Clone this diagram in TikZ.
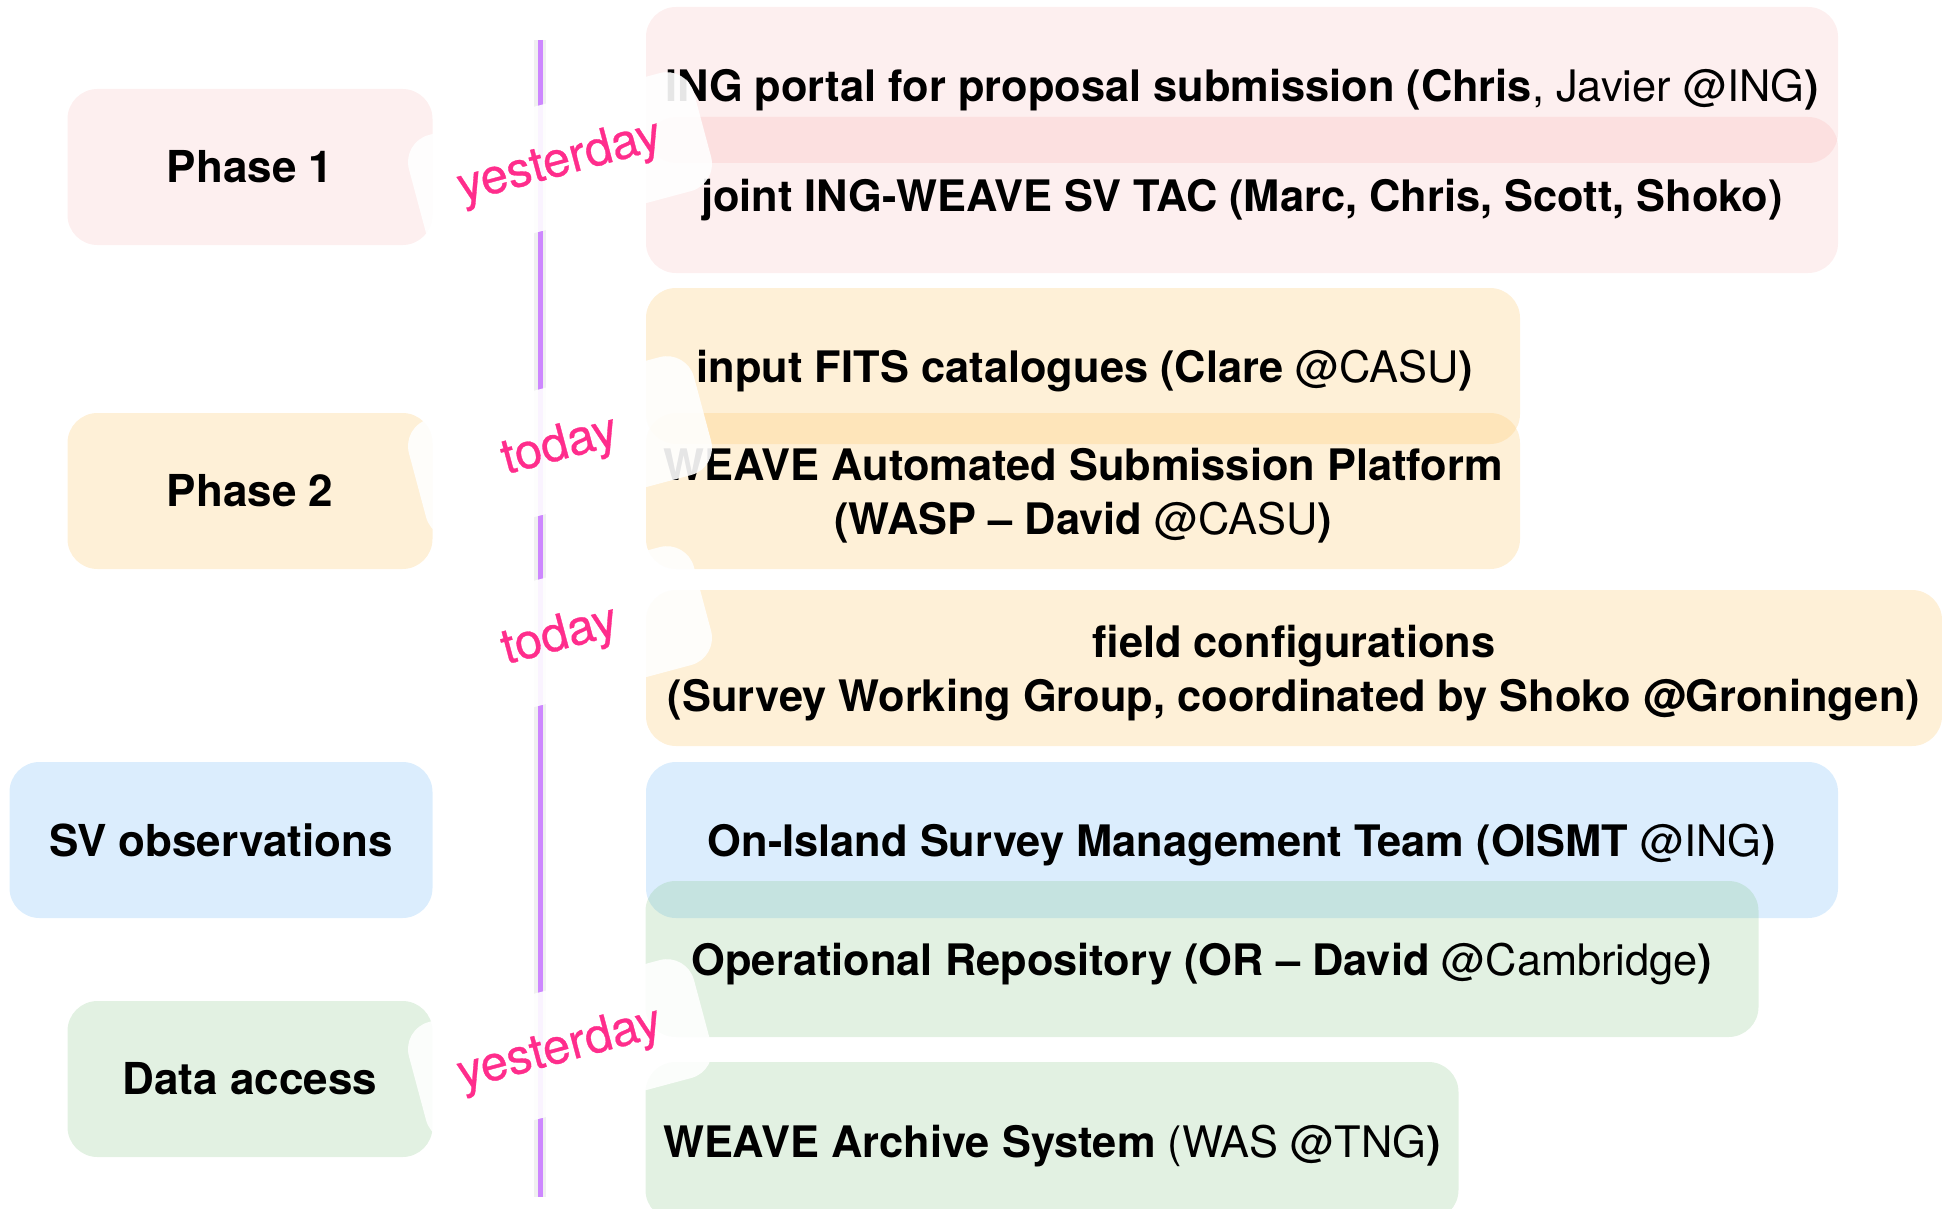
\documentclass[tikz,border=0pt]{standalone}
\usepackage{fontspec}
\setmainfont{TeX Gyre Heros}
\newfontfamily\tagfont{TeX Gyre Heros}[FakeBold=0.6]
\definecolor{pinkbase}{RGB}{240,120,120}
\definecolor{orangebase}{RGB}{252,200,110}
\definecolor{bluebase}{RGB}{90,175,245}
\definecolor{greenbase}{RGB}{110,185,110}
\definecolor{labelpink}{RGB}{255,45,140}
\definecolor{timeline}{RGB}{205,135,255}
\begin{document}
\begin{tikzpicture}[x=1pt,y=-1pt,
  every node/.style={inner sep=0pt,outer sep=0pt},
  box/.style={rounded corners=30pt,minimum height=156pt,text=black,text opacity=1,
    font=\fontsize{44}{54}\selectfont\bfseries,align=center},
  rtext/.style={text=black,font=\fontsize{43.4}{54}\selectfont\bfseries,align=center},
  pinkbox/.style={box,fill=pinkbase,fill opacity=0.12},
  orangebox/.style={box,fill=orangebase,fill opacity=0.28},
  bluebox/.style={box,fill=bluebase,fill opacity=0.22},
  greenbox/.style={box,fill=greenbase,fill opacity=0.2},
  tag/.style={rotate=15,minimum width=295pt,minimum height=122pt,rounded corners=28pt,
    fill=white,fill opacity=0.9,text opacity=1,text=labelpink,
    font=\fontsize{49}{52}\tagfont}]
\useasboundingbox (0,0) rectangle (1942,1209);
% left phase boxes
\node[pinkbox,minimum width=365pt] (p1) at (250,167) {Phase 1};
\node[orangebox,minimum width=365pt] (p2) at (250,491) {Phase 2};
\node[bluebox,minimum width=423pt] (sv) at (221,840) {SV observations};
\node[greenbox,minimum width=365pt] (da) at (250,1079) {Data access};
% right boxes
\node[pinkbox,minimum width=1192pt] (a1) at (1242,85) {};
\node[pinkbox,minimum width=1192pt] (a2) at (1242,195) {};
\node[orangebox,minimum width=874pt] (b1) at (1083,366) {};
\node[orangebox,minimum width=874pt] (b2) at (1083,491) {};
\node[orangebox,minimum width=1296pt] (b3) at (1294,668) {};
\node[bluebox,minimum width=1192pt] (c1) at (1242,840) {};
\node[greenbox,minimum width=1113pt] (d1) at (1202,959) {};
\node[greenbox,minimum width=813pt,minimum height=158pt] (d2) at (1052,1141) {};
% right texts
\node[rtext] (a1t) at ([yshift=-5pt]a1.center) {ING portal for proposal submission (Chris{\mdseries, Javier @ING})};
\node[rtext] (a2t) at ([yshift=-5pt]a2.center) {joint ING-WEAVE SV TAC (Marc, Chris, Scott, Shoko)};
\node[rtext] (b1t) at ([xshift=2pt,yshift=-5pt]b1.center) {input FITS catalogues (Clare {\mdseries @CASU})};
\node[rtext] (b2t) at ([yshift=-5pt]b2.center) {WEAVE Automated Submission Platform\\(WASP – David {\mdseries @CASU})};
\node[rtext] (b3t) at ([yshift=-5pt]b3.center) {field configurations\\(Survey Working Group, coordinated by Shoko @Groningen)};
\node[rtext] (c1t) at ([yshift=-5pt]c1.center) {On-Island Survey Management Team (OISMT {\mdseries @ING})};
\node[rtext] (d1t) at ([yshift=-5pt]d1.center) {Operational Repository (OR – David {\mdseries @Cambridge})};
\node[rtext] (d2t) at ([yshift=-5pt]d2.center) {WEAVE Archive System {\mdseries (WAS @TNG})};
% timeline
\coordinate (ttop) at (540,40);
\coordinate (tbot) at (540,1197);
\draw[line width=12pt,black,opacity=0.06] (ttop) -- (tbot);
\draw[line width=5pt,timeline] (ttop) -- (tbot);
% tags
\node[tag] (y1) at (560,163) {yesterday};
\node[tag] (t1) at (560,447) {today};
\node[tag] (t2) at (560,637) {today};
\node[tag] (y2) at (560,1050) {yesterday};
\end{tikzpicture}
\end{document}
